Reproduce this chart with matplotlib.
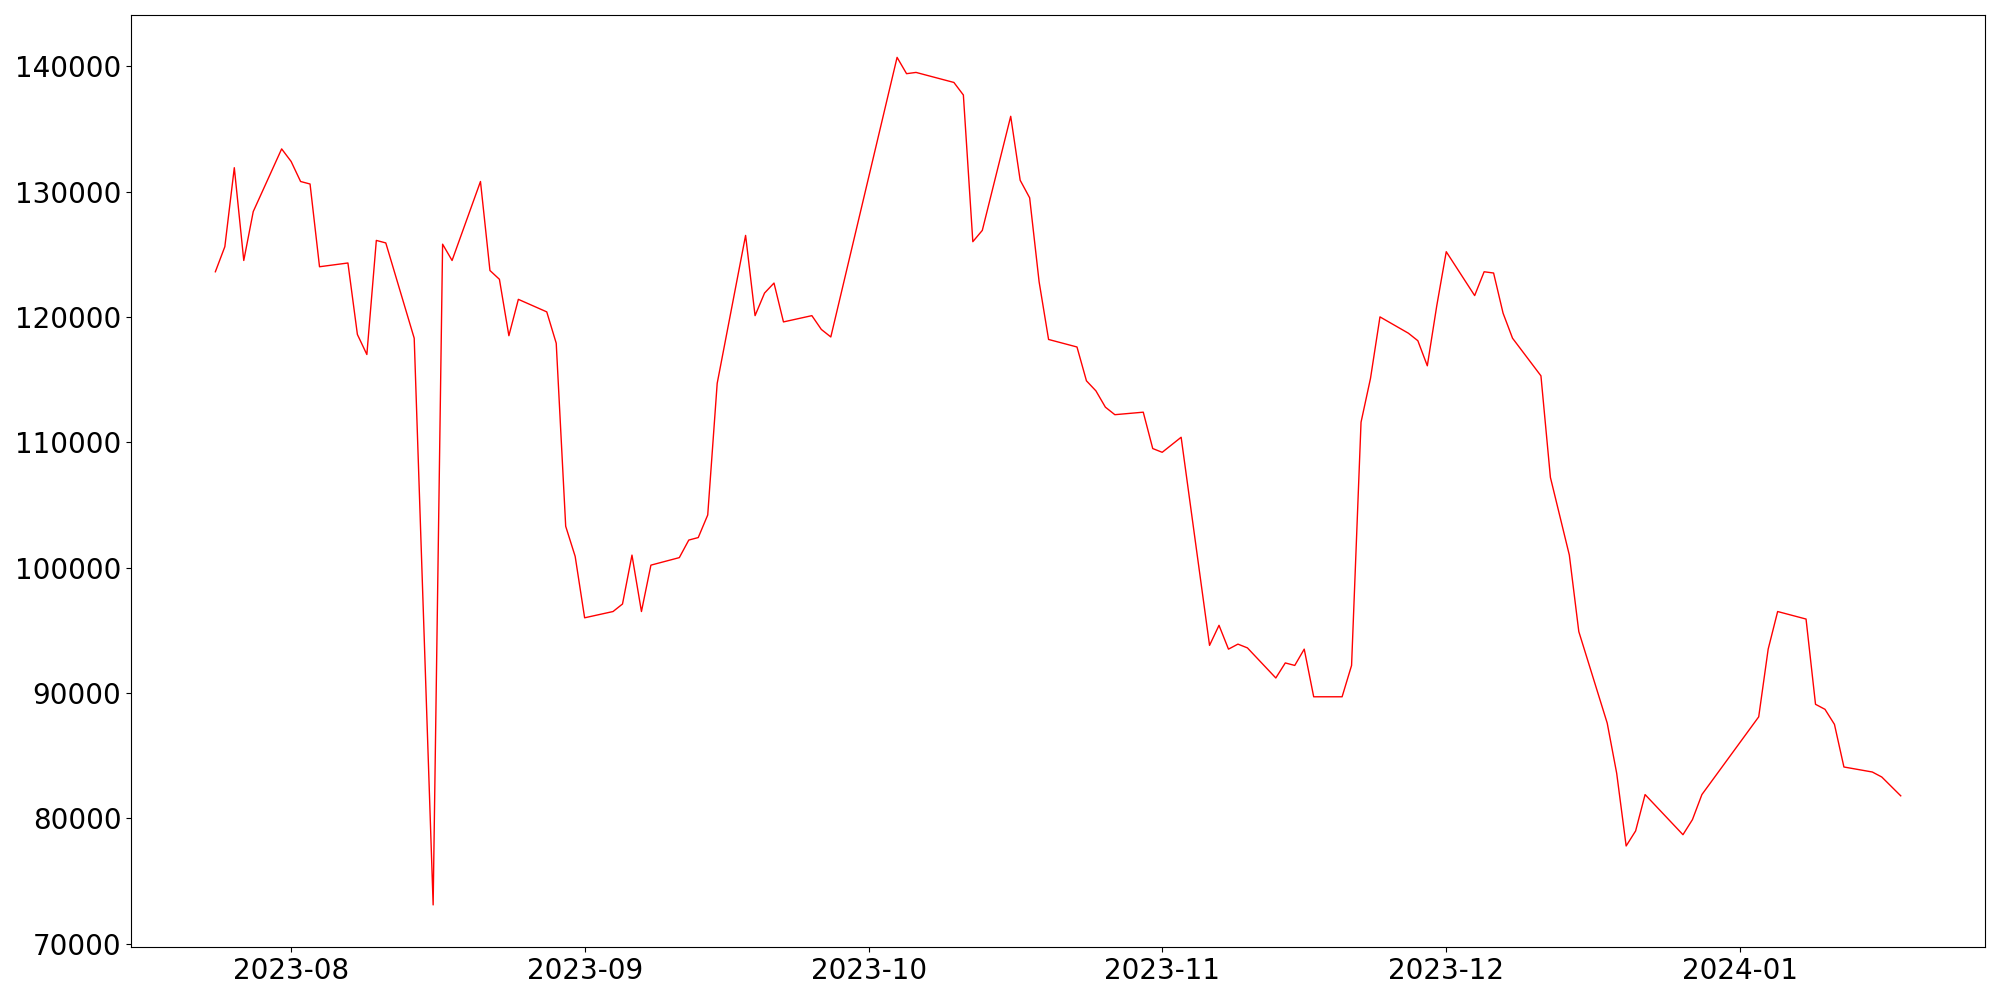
import matplotlib
matplotlib.use("Agg")
import matplotlib.pyplot as plt
import pandas as pd

dates = [
    "2023-07-24", "2023-07-25", "2023-07-26", "2023-07-27", "2023-07-28",
    "2023-07-31", "2023-08-01", "2023-08-02", "2023-08-03", "2023-08-04",
    "2023-08-07", "2023-08-08", "2023-08-09", "2023-08-10", "2023-08-11",
    "2023-08-14", "2023-08-16", "2023-08-17", "2023-08-18",
    "2023-08-21", "2023-08-22", "2023-08-23", "2023-08-24", "2023-08-25",
    "2023-08-28", "2023-08-29", "2023-08-30", "2023-08-31", "2023-09-01",
    "2023-09-04", "2023-09-05", "2023-09-06", "2023-09-07", "2023-09-08",
    "2023-09-11", "2023-09-12", "2023-09-13", "2023-09-14", "2023-09-15",
    "2023-09-18", "2023-09-19", "2023-09-20", "2023-09-21", "2023-09-22",
    "2023-09-25", "2023-09-26", "2023-09-27",
    "2023-10-04", "2023-10-05", "2023-10-06",
    "2023-10-10", "2023-10-11", "2023-10-12", "2023-10-13",
    "2023-10-16", "2023-10-17", "2023-10-18", "2023-10-19", "2023-10-20",
    "2023-10-23", "2023-10-24", "2023-10-25", "2023-10-26", "2023-10-27",
    "2023-10-30", "2023-10-31", "2023-11-01", "2023-11-03",
    "2023-11-06", "2023-11-07", "2023-11-08", "2023-11-09", "2023-11-10",
    "2023-11-13", "2023-11-14", "2023-11-15", "2023-11-16", "2023-11-17",
    "2023-11-20", "2023-11-21", "2023-11-22", "2023-11-23", "2023-11-24",
    "2023-11-27", "2023-11-28", "2023-11-29", "2023-11-30", "2023-12-01",
    "2023-12-04", "2023-12-05", "2023-12-06", "2023-12-07", "2023-12-08",
    "2023-12-11", "2023-12-12", "2023-12-14", "2023-12-15",
    "2023-12-18", "2023-12-19", "2023-12-20", "2023-12-21", "2023-12-22",
    "2023-12-26", "2023-12-27", "2023-12-28",
    "2024-01-03", "2024-01-04", "2024-01-05",
    "2024-01-08", "2024-01-09", "2024-01-10", "2024-01-11", "2024-01-12",
    "2024-01-15", "2024-01-16", "2024-01-18",
]

prices = [
    123600, 125600, 131900, 124500, 128400,
    133400, 132400, 130800, 130600, 124000,
    124300, 118600, 117000, 126100, 125900,
    118300, 73100, 125800, 124500,
    130800, 123700, 123000, 118500, 121400,
    120400, 117900, 103300, 100900, 96000,
    96500, 97100, 101000, 96500, 100200,
    100800, 102200, 102400, 104200, 114700,
    126500, 120100, 121900, 122700, 119600,
    120100, 119000, 118400,
    140700, 139400, 139500,
    138700, 137700, 126000, 126900,
    136000, 130900, 129500, 122800, 118200,
    117600, 114900, 114100, 112800, 112200,
    112400, 109500, 109200, 110400,
    93800, 95400, 93500, 93900, 93600,
    91200, 92400, 92200, 93500, 89700,
    89700, 92200, 111600, 115100, 120000,
    118700, 118100, 116100, 120900, 125200,
    121700, 123600, 123500, 120300, 118300,
    115300, 107200, 101000, 94900,
    87600, 83600, 77800, 79000, 81900,
    78700, 79900, 81900,
    88100, 93500, 96500,
    95900, 89100, 88700, 87500, 84100,
    83700, 83300, 81800,
]

x = pd.to_datetime(dates)

fig, ax = plt.subplots(figsize=(20, 10), dpi=100)
ax.plot(x, prices, color="red", linewidth=1.0)
ax.tick_params(axis="both", labelsize=20)
fig.tight_layout()
fig.savefig("out.png", dpi=100)
